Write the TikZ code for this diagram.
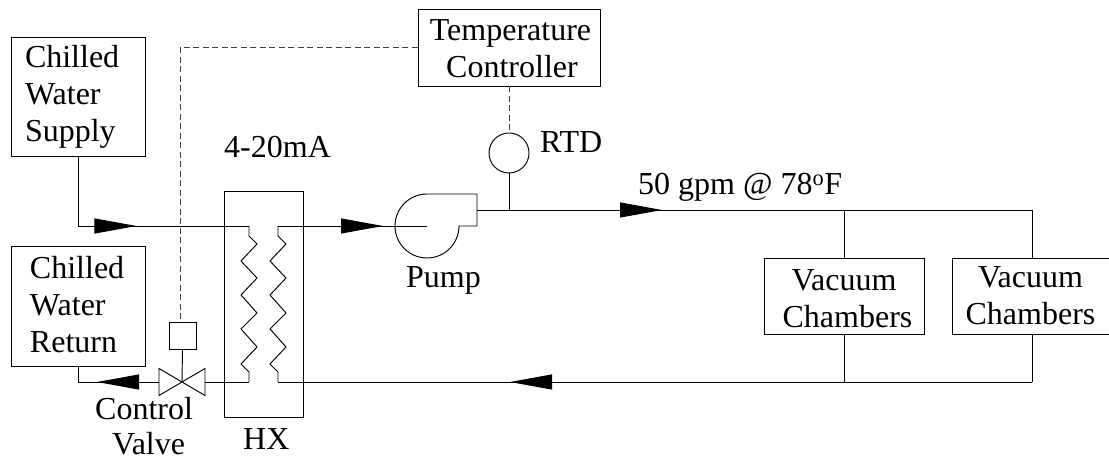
\documentclass[tikz,border=0pt]{standalone}
\usepackage{fontspec}
\setmainfont{Liberation Serif}
\usetikzlibrary{arrows.meta, decorations.markings}

\tikzset{
  pipe/.style={line width=0.95pt},
  flow/.style={pipe, postaction={decorate}, decoration={markings,
    mark=at position #1 with {\arrow{Triangle[length=42pt,width=15pt]}}}},
  signal/.style={line width=1pt, dash pattern=on 6pt off 3.5pt, black!75},
  unitbox/.style={draw, line width=0.95pt, inner sep=0pt, align=left,
    font=\fontsize{32}{37}\selectfont},
  tag/.style={anchor=base west, inner sep=0pt, font=\fontsize{32}{37}\selectfont}
}

\begin{document}
\begin{tikzpicture}[x=1pt, y=1pt]
  \useasboundingbox (0,0) rectangle (1109,460);
  % Units with text
  \node[unitbox, inner xsep=14pt, text width=106pt, minimum height=119pt]
    (SUPPLY) at (78, 363.5) {Chilled\\Water\\Supply};
  \node[unitbox, inner xsep=19pt, text width=96pt, minimum height=120pt]
    (RETURN) at (78, 154) {Chilled\\Water\\Return\rule[-3pt]{0pt}{1pt}};
  \node[unitbox, align=center, text width=182pt, minimum height=77pt]
    (TEMP) at (509, 412.5) {\rule{0pt}{23.5pt}\hspace*{3pt}Temperature\\\hspace*{6pt}Controller};
  \node[unitbox, align=center, text width=160pt, minimum height=76pt]
    (VACA) at (844, 164) {\rule{0pt}{27.2pt}Vacuum\\\hspace*{7pt}Chambers};
  \node[unitbox, align=center, text width=157pt, minimum height=76pt]
    (VACB) at (1030.5, 164) {Vacuum\hspace*{15pt}\\Chambers\hspace*{5pt}};
  % Instruments
  \node[draw, pipe, circle, inner sep=0pt, minimum size=40pt] (RTD) at (509, 307) {};
  \node[draw, pipe, inner sep=0pt, minimum size=27pt] (ACT) at (182.5, 124.5) {};
  \node[draw, pipe, inner sep=0pt, minimum width=79pt, minimum height=226pt] (HX) at (263.5, 156) {};
  % Valve
  \coordinate (VALVE) at (182, 78);
  \coordinate (VALVEL) at (159, 78);
  \coordinate (VALVER) at (205, 78);
  \draw[pipe] (159, 91.5) -- (205, 64.5) -- (205, 91.5) -- (159, 64.5) -- cycle;
  \draw[pipe] (ACT.south) -- (VALVE);
  % Pump
  \coordinate (PUMP) at (427, 234);
  \coordinate (PUMPIN) at (395, 234);
  \coordinate (PUMPOUT) at (477, 250);
  \draw[pipe] (427, 266) arc[start angle=90, end angle=360, radius=32] -- (477, 234) -- (477, 266) -- cycle;
  % Heat exchanger coils
  \foreach \cx/\name in {249/COILA, 278/COILB} {
    \coordinate (\name T) at (\cx, 234);
    \coordinate (\name B) at (\cx, 78);
    \draw[pipe] (\name T) -- (\cx, 224) -- (\cx+8, 216) -- (\cx-8, 199) -- (\cx+8, 182) -- (\cx-8, 165)
      -- (\cx+8, 147) -- (\cx-8, 131) -- (\cx+8, 113) -- (\cx-8, 96) -- (\cx, 88) -- (\name B);
  }
  \coordinate (JOINA) at (844, 250);
  \coordinate (JOINB) at (1032, 250);
  \coordinate (JOINC) at (844, 78);
  \coordinate (JOIND) at (1032, 78);
  % Water side
  \draw[flow=128pt] (SUPPLY.south) |- (COILAT);
  \draw[pipe] (COILAB) -- (VALVER);
  \draw[flow=62pt] (VALVEL) -| (RETURN.south);
  % Process side
  \draw[flow=105pt] (COILBT) -- (PUMP);
  \draw[flow=185pt] (PUMPOUT) -- (JOINB) -- (JOINB |- VACB.north);
  \draw[pipe] (JOINA) -- (VACA.north);
  \draw[pipe] (VACA.south) -- (JOINC);
  \draw[pipe] (JOINB |- VACB.south) -- (JOIND);
  \draw[flow=522pt] (JOIND) -- (COILBB);
  \draw[pipe] (RTD.south) -- (RTD.south |- PUMPOUT);
  % Signal lines
  \coordinate (ACTIN) at (180, 138);
  \draw[signal] (TEMP.west) -| (ACTIN);
  \draw[signal] (TEMP.south) -- (RTD.north);
  % Labels
  \node[tag] (LBLMA) at (224, 302) {4-20mA};
  \node[tag] (LBLRTD) at (540, 307) {RTD};
  \node[tag] (LBLFLOW) at (638, 265) {50 gpm @ 78\textsuperscript{o}F};
  \node[tag] (LBLPUMP) at (406, 172) {Pump};
  \node[tag] (LBLCTRL) at (95, 40) {Control};
  \node[tag] (LBLVALVE) at (112, 5) {Valve};
  \node[tag] (LBLHX) at (243, 10) {HX};
\end{tikzpicture}
\end{document}
